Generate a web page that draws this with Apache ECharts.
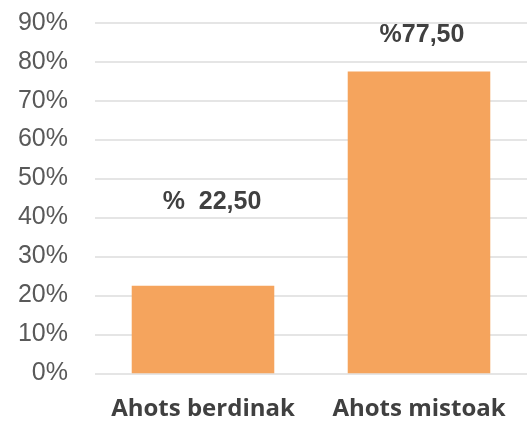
<!DOCTYPE html>
<html>
<head>
<meta charset="utf-8">
<script src="https://cdn.jsdelivr.net/npm/echarts@6/dist/echarts.min.js"></script>
<style>html,body{margin:0;padding:0;background:#fff}#c{width:527px;height:422px}</style>
</head>
<body>
<div id="c"></div>
<script>
const categories = ['Ahots berdinak', 'Ahots mistoak'];
const values = [22.5, 77.5];
const labelTexts = ['%  22,50', '%77,50'];
const yTicks = [0, 10, 20, 30, 40, 50, 60, 70, 80, 90];

const labelOffsets = [[9, -71], [3, -24]];

const chart = echarts.init(document.getElementById('c'), null, {renderer: 'canvas'});
chart.setOption({
  animation: false,
  grid: {left: 95, right: 0, top: 22.7, bottom: 48.7, containLabel: false},
  xAxis: {
    type: 'category',
    data: categories,
    axisLine: {show: false},
    axisTick: {show: false},
    axisLabel: {
      interval: 0,
      hideOverlap: false,
      margin: 24,
      fontFamily: '"Open Sans", sans-serif',
      fontWeight: 'bold',
      fontSize: 24,
      color: '#404040'
    }
  },
  yAxis: {
    type: 'value',
    min: yTicks[0],
    max: yTicks[yTicks.length - 1],
    interval: 10,
    axisLine: {show: false},
    axisTick: {show: false},
    splitLine: {lineStyle: {color: '#DCDCDC', width: 1.5}},
    axisLabel: {
      margin: 27,
      padding: [6, 0, 0, 0],
      fontFamily: '"Liberation Sans", Arial, sans-serif',
      fontSize: 25,
      color: '#595959',
      formatter: v => v + '%'
    }
  },
  series: [{
    type: 'bar',
    barWidth: '66%',
    itemStyle: {color: '#F5A45D'},
    data: values.map((v, i) => ({
      value: v,
      label: {
        show: true,
        position: 'top',
        distance: 0,
        offset: labelOffsets[i],
        formatter: labelTexts[i],
        fontFamily: '"Liberation Sans", Arial, sans-serif',
        fontWeight: 'bold',
        fontSize: 25,
        color: '#404040'
      }
    }))
  }]
});
</script>
</body>
</html>
